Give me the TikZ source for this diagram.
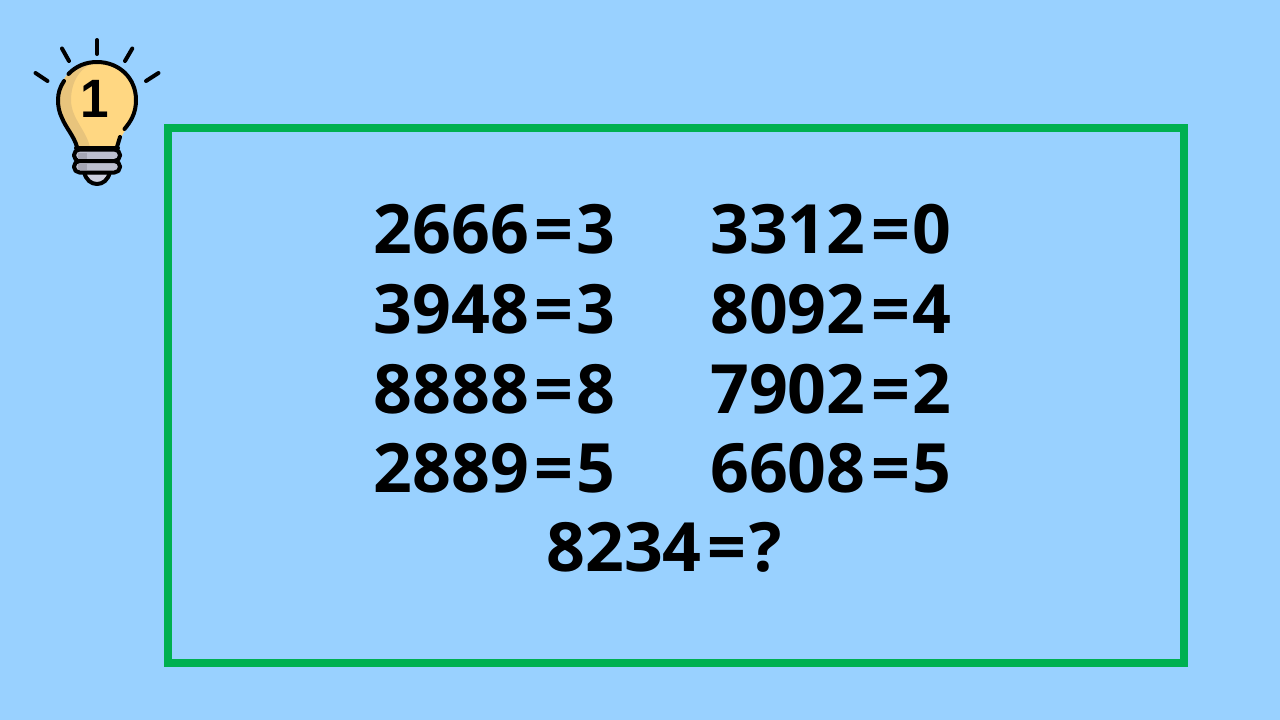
\documentclass[tikz,border=0pt]{standalone}
\usepackage{fontspec}
\setmainfont{Open Sans}
\newfontfamily\onefont{Liberation Sans}
\newcommand\eqsign{\kern5.5pt=\kern3pt}
\definecolor{bgblue}{HTML}{99D1FF}
\definecolor{framegreen}{HTML}{00B050}
\definecolor{bulbfill}{HTML}{FFD782}
\definecolor{bulbshade}{HTML}{E8C47C}
\definecolor{basefill}{HTML}{BDBFCF}
\definecolor{baseshade}{HTML}{A5A6B5}
\definecolor{capfill}{HTML}{CDD0DF}
\tikzset{
 eqn/.style={inner sep=0pt,anchor=base,font=\fontsize{68}{68}\selectfont\bfseries,text=black},
 ink/.style={draw=black,line width=4pt,line cap=round,line join=round},
 ray/.style={draw=black,line width=4pt,line cap=round}
}
\begin{document}
\begin{tikzpicture}[x=1pt,y=-1pt]
\useasboundingbox (0,0) rectangle (1280,720);
\fill[bgblue] (0,0) rectangle (1280,720);
\draw[framegreen,line width=8pt] (168,128) rectangle (1184,663);
% rays
\draw[ray] (97,40)--(97,54);
\draw[ray] (62,48.5)--(69,61);
\draw[ray] (132.3,48.5)--(125,61);
\draw[ray] (35.5,73)--(47.5,81);
\draw[ray] (158.5,73)--(146,81);
% bottom cap
\path[fill=capfill,ink] (84,172) .. controls (86,180) and (91,184) .. (97,184) .. controls (103,184) and (108,180) .. (110,172) -- cycle;
% bulb body
\path[fill=bulbfill] (77,147) .. controls (74,136) and (66,128) .. (62,118) .. controls (59,112) and (58,106) .. (58,100) .. controls (58,78) and (75,62) .. (97,62) .. controls (119,62) and (136,78) .. (136,100) .. controls (136,106) and (135,112) .. (132,118) .. controls (128,128) and (120,136) .. (117,147) -- cycle;
\path[fill=bulbshade] (90,147) -- (77,147) .. controls (74,136) and (66,128) .. (62,118) .. controls (59,112) and (58,106) .. (58,100) .. controls (58,78) and (75,62) .. (97,62) .. controls (80,66) and (71,82) .. (71,100) .. controls (71,118) and (86,130) .. (90,147) -- cycle;
\draw[ink] (68.5,74) .. controls (76,66) and (86,62) .. (97,62) .. controls (119,62) and (136,78) .. (136,100) .. controls (136,106) and (135,112) .. (132,118) .. controls (130,122) and (127,126) .. (124.5,129);
\draw[ink] (120,137) -- (117,147);
\draw[ink] (64,81) .. controls (60,87) and (58,93) .. (58,100) .. controls (58,106) and (59,112) .. (62,118) .. controls (66,128) and (74,136) .. (77,147);
% screw base
\draw[ink,fill=basefill,rounded corners=5.5pt] (74,149.5) rectangle (120,161);
\draw[ink,fill=basefill,rounded corners=5.5pt] (74,161) rectangle (120,172.5);
\fill[baseshade] (78,152.5) rectangle (87,158.5);
\fill[baseshade] (78,164) rectangle (87,170);
\draw[ink] (76,148) -- (118,148);
\node[inner sep=0pt,anchor=base,xscale=.95,font=\onefont\bfseries\fontsize{54}{54}\selectfont] (bulbnum) at (94.5,117) {1};
% equations
\node[eqn] (a1) at (494.5,253) {2666\eqsign 3};
\node[eqn] (a2) at (494.5,333) {3948\eqsign 3};
\node[eqn] (a3) at (494.5,413) {8888\eqsign 8};
\node[eqn] (a4) at (494.5,492) {2889\eqsign 5};
\node[eqn] (b1) at (831,253) {3312\eqsign 0};
\node[eqn] (b2) at (831,333) {8092\eqsign 4};
\node[eqn] (b3) at (831,413) {7902\eqsign 2};
\node[eqn] (b4) at (831,492) {6608\eqsign 5};
\node[eqn] (q) at (664,571) {8234\eqsign ?};
\end{tikzpicture}
\end{document}
